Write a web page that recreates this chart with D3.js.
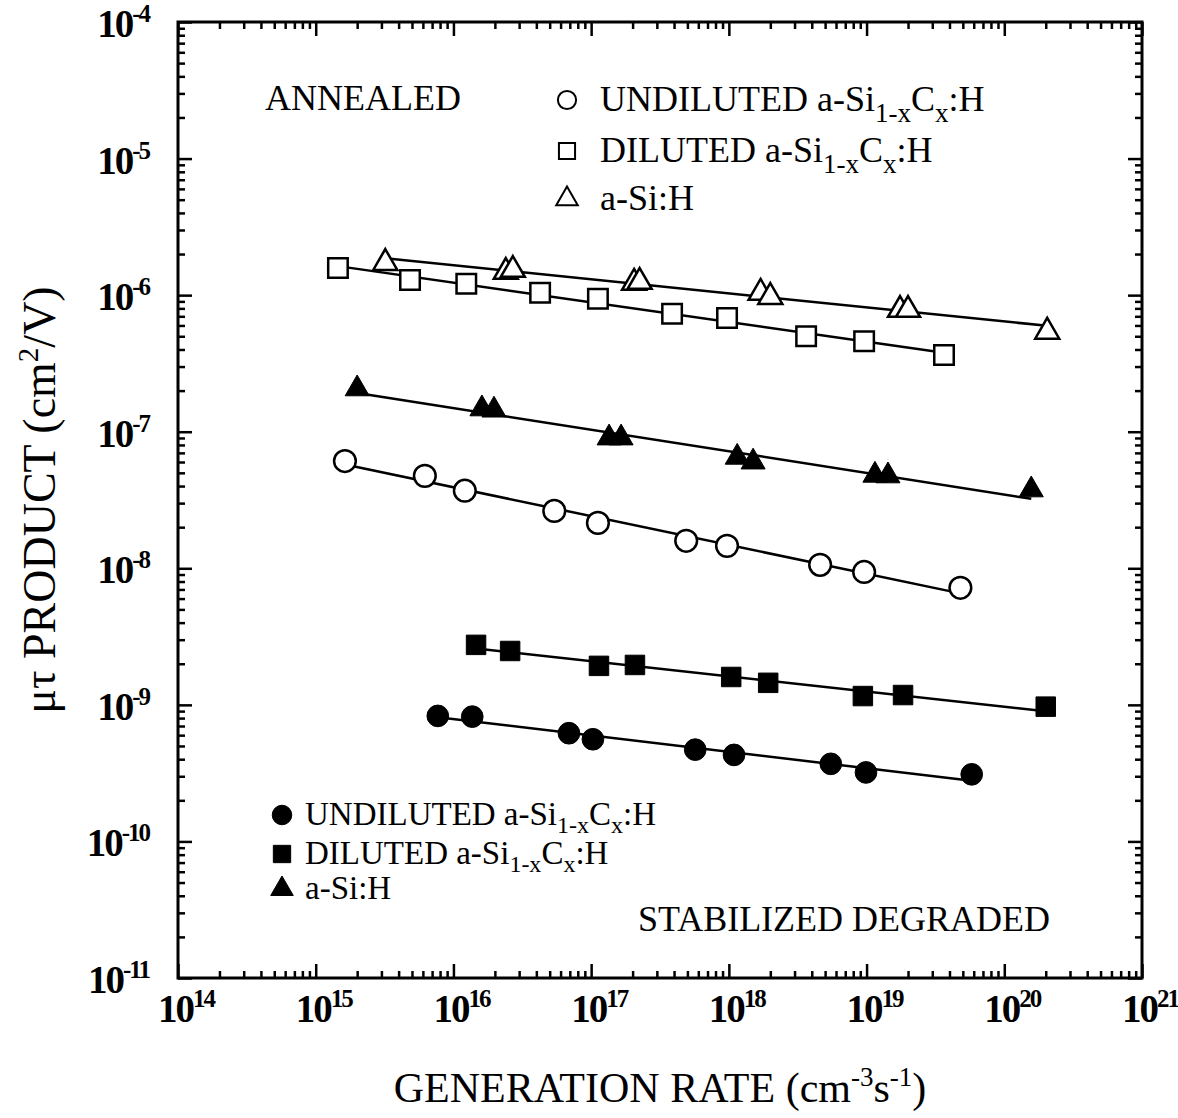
<!DOCTYPE html>
<html>
<head>
<meta charset="utf-8">
<script src="https://cdn.jsdelivr.net/npm/d3@7"></script>
<style>
body{margin:0;background:#fff}
text{font-family:"Liberation Serif","Times New Roman",serif;fill:#000}
</style>
</head>
<body>
<svg id="s"></svg>
<script>
// annealed
var annUndilX = [1.63e15, 6.2e15, 1.21e16, 5.4e16, 1.12e17, 4.9e17, 9.7e17, 4.6e18, 9.6e18, 4.8e19];
var annUndilY = [6.1e-8, 4.75e-8, 3.7e-8, 2.63e-8, 2.15e-8, 1.59e-8, 1.46e-8, 1.06e-8, 9.4e-9, 7.2e-9];
var annDilX = [1.45e15, 4.84e15, 1.24e16, 4.26e16, 1.12e17, 3.87e17, 9.7e17, 3.64e18, 9.6e18, 3.65e19];
var annDilY = [1.58e-6, 1.29e-6, 1.21e-6, 1.04e-6, 9.4e-7, 7.3e-7, 6.8e-7, 5.0e-7, 4.6e-7, 3.65e-7];
var annSiX = [3.2e15, 2.4e16, 2.7e16, 2.05e17, 2.25e17, 1.7e18, 2.0e18, 1.75e19, 2.0e19, 2.05e20];
var annSiY = [1.72e-6, 1.48e-6, 1.53e-6, 1.23e-6, 1.25e-6, 1.04e-6, 0.97e-6, 7.8e-7, 7.8e-7, 5.4e-7];
// stabilized degraded
var degUndilX = [7.7e15, 1.37e16, 6.9e16, 1.03e17, 5.7e17, 1.09e18, 5.5e18, 9.9e18, 5.8e19];
var degUndilY = [8.3e-10, 8.2e-10, 6.2e-10, 5.6e-10, 4.7e-10, 4.3e-10, 3.7e-10, 3.2e-10, 3.1e-10];
var degDilX = [1.46e16, 2.58e16, 1.14e17, 2.08e17, 1.04e18, 1.93e18, 9.4e18, 1.84e19, 2.0e20];
var degDilY = [2.75e-9, 2.48e-9, 1.93e-9, 1.96e-9, 1.6e-9, 1.45e-9, 1.16e-9, 1.18e-9, 9.7e-10];
var degSiX = [2.0e15, 1.61e16, 1.97e16, 1.35e17, 1.65e17, 1.15e18, 1.5e18, 1.15e19, 1.43e19, 1.57e20];
var degSiY = [2.06e-7, 1.47e-7, 1.44e-7, 9.0e-8, 9.0e-8, 6.5e-8, 6.0e-8, 4.8e-8, 4.75e-8, 3.75e-8];

var xExps = [14, 15, 16, 17, 18, 19, 20, 21];
var yExps = [-11, -10, -9, -8, -7, -6, -5, -4];

var W = 1178, H = 1118;
var L = 178, R = 1142, T = 22, B = 978;

var svg = d3.select('#s').attr('width', W).attr('height', H);

var x = d3.scaleLog().domain([1e14, 1e21]).range([L, R]);
var y = d3.scaleLog().domain([1e-11, 1e-4]).range([B, T]);

// tick values
var xMajor = xExps.map(function(e){return Math.pow(10, e);});
var yMajor = yExps.map(function(e){return Math.pow(10, e);});
var xMinor = [], yMinor = [];
xExps.slice(0, -1).forEach(function(e){
  for (var k = 2; k < 10; k++) xMinor.push(k * Math.pow(10, e));
});
yExps.slice(0, -1).forEach(function(e){
  for (var k = 2; k < 10; k++) yMinor.push(k * Math.pow(10, e));
});

function axisStyle(g){
  g.select('.domain').remove();
  g.selectAll('line').attr('stroke', '#000').attr('stroke-width', 2.5);
  g.selectAll('text').remove();
}

// bottom / top
svg.append('g').attr('transform', 'translate(0,' + B + ')')
  .call(d3.axisBottom(x).tickValues(xMajor).tickSize(-14).tickFormat('')).call(axisStyle);
svg.append('g').attr('transform', 'translate(0,' + B + ')')
  .call(d3.axisBottom(x).tickValues(xMinor).tickSize(-7).tickFormat('')).call(axisStyle);
svg.append('g').attr('transform', 'translate(0,' + T + ')')
  .call(d3.axisTop(x).tickValues(xMajor).tickSize(-14).tickFormat('')).call(axisStyle);
svg.append('g').attr('transform', 'translate(0,' + T + ')')
  .call(d3.axisTop(x).tickValues(xMinor).tickSize(-7).tickFormat('')).call(axisStyle);
// left / right
svg.append('g').attr('transform', 'translate(' + L + ',0)')
  .call(d3.axisLeft(y).tickValues(yMajor).tickSize(-14).tickFormat('')).call(axisStyle);
svg.append('g').attr('transform', 'translate(' + L + ',0)')
  .call(d3.axisLeft(y).tickValues(yMinor).tickSize(-7).tickFormat('')).call(axisStyle);
svg.append('g').attr('transform', 'translate(' + R + ',0)')
  .call(d3.axisRight(y).tickValues(yMajor).tickSize(-14).tickFormat('')).call(axisStyle);
svg.append('g').attr('transform', 'translate(' + R + ',0)')
  .call(d3.axisRight(y).tickValues(yMinor).tickSize(-7).tickFormat('')).call(axisStyle);

// frame
svg.append('rect').attr('x', L).attr('y', T).attr('width', R - L).attr('height', B - T)
  .attr('fill', 'none').attr('stroke', '#000').attr('stroke-width', 3);

// tick labels
var xl = svg.selectAll('.xl').data(xExps).enter().append('text')
  .attr('class', 'xl')
  .attr('x', function(d){return x(Math.pow(10, d)) + 8;})
  .attr('y', 1022)
  .attr('text-anchor', 'middle')
  .style('font-weight', 'bold').style('font-size', '39px').style('letter-spacing', '-2px');
xl.append('tspan').text('10');
xl.append('tspan').attr('dy', -15).style('font-size', '25px').text(function(d){return d;});

var yl = svg.selectAll('.yl').data(yExps).enter().append('text')
  .attr('class', 'yl')
  .attr('x', 149)
  .attr('y', function(d){return y(Math.pow(10, d)) + 15;})
  .attr('text-anchor', 'end')
  .style('font-weight', 'bold').style('font-size', '39px').style('letter-spacing', '-2px');
yl.append('tspan').text('10');
yl.append('tspan').attr('dy', -15).style('font-size', '25px').text(function(d){return d;});

// axis titles
var xt = svg.append('text').attr('x', 660).attr('y', 1102).attr('text-anchor', 'middle')
  .style('font-size', '42px');
xt.append('tspan').text('GENERATION RATE (cm');
xt.append('tspan').attr('dy', -16).style('font-size', '27px').text('-3');
xt.append('tspan').attr('dy', 16).text('s');
xt.append('tspan').attr('dy', -16).style('font-size', '27px').text('-1');
xt.append('tspan').attr('dy', 16).text(')');

var yt = svg.append('text').attr('transform', 'translate(55,500) rotate(-90)')
  .attr('text-anchor', 'middle').style('font-size', '46px');
yt.append('tspan').text('\u03bc\u03c4 PRODUCT (cm');
yt.append('tspan').attr('dy', -17).style('font-size', '29px').text('2');
yt.append('tspan').attr('dy', 17).text('/V)');

// series
var series = [
  {xs: annDilX, ys: annDilY, shape: 'square', filled: false},
  {xs: annSiX, ys: annSiY, shape: 'triangle', filled: false},
  {xs: degSiX, ys: degSiY, shape: 'triangle', filled: true},
  {xs: annUndilX, ys: annUndilY, shape: 'circle', filled: false},
  {xs: degDilX, ys: degDilY, shape: 'square', filled: true},
  {xs: degUndilX, ys: degUndilY, shape: 'circle', filled: true}
];

function fit(xs, ys){
  var lx = xs.map(Math.log10), ly = ys.map(Math.log10);
  var mx = d3.mean(lx), my = d3.mean(ly);
  var sxy = d3.sum(lx, function(v, i){return (v - mx) * (ly[i] - my);});
  var sxx = d3.sum(lx, function(v){return (v - mx) * (v - mx);});
  var b = sxy / sxx, a = my - b * mx;
  var x0 = d3.min(xs), x1 = d3.max(xs);
  return [[x0, Math.pow(10, a + b * Math.log10(x0))], [x1, Math.pow(10, a + b * Math.log10(x1))]];
}

var symbols = {
  circle: d3.symbol().type(d3.symbolCircle).size(370),
  square: d3.symbol().type(d3.symbolSquare).size(380),
  triangle: d3.symbol().type(d3.symbolTriangle).size(250)
};

var line = d3.line().x(function(d){return x(d[0]);}).y(function(d){return y(d[1]);});

series.forEach(function(s){
  svg.append('path').attr('d', line(fit(s.xs, s.ys)))
    .attr('fill', 'none').attr('stroke', '#000').attr('stroke-width', 2.5);
});

series.forEach(function(s){
  var pts = s.xs.map(function(v, i){return [v, s.ys[i]];});
  svg.append('g').selectAll('path').data(pts).enter().append('path')
    .attr('d', symbols[s.shape])
    .attr('transform', function(d){return 'translate(' + x(d[0]) + ',' + y(d[1]) + ')';})
    .attr('fill', s.filled ? '#000' : '#fff')
    .attr('stroke', '#000').attr('stroke-width', s.filled ? 1 : 2.5);
});

// legends
function legendText(g, xPos, yPos, size, parts){
  var t = g.append('text').attr('x', xPos).attr('y', yPos).style('font-size', size);
  parts.forEach(function(p){
    var ts = t.append('tspan').text(p[0]);
    if (p[1]) ts.attr('dy', p[1]);
    if (p[2]) ts.style('font-size', p[2]);
  });
}
var formula = function(name, drop, sub){
  return [[name + ' a-Si'], ['1-x', drop, sub], ['C', -drop], ['x', drop, sub], [':H', -drop]];
};

var leg = svg.append('g');
leg.append('text').attr('x', 265).attr('y', 110).style('font-size', '36px').text('ANNEALED');

var topLeg = [
  {shape: 'circle', yPos: 100, parts: formula('UNDILUTED', 11, '27px')},
  {shape: 'square', yPos: 151, parts: formula('DILUTED', 11, '27px')},
  {shape: 'triangle', yPos: 199, parts: [['a-Si:H']]}
];
var botLeg = [
  {shape: 'circle', yPos: 815, parts: formula('UNDILUTED', 8, '24px')},
  {shape: 'square', yPos: 854, parts: formula('DILUTED', 8, '24px')},
  {shape: 'triangle', yPos: 889, parts: [['a-Si:H']]}
];

function symType(s){
  return s === 'circle' ? d3.symbolCircle : s === 'square' ? d3.symbolSquare : d3.symbolTriangle;
}

topLeg.forEach(function(d){
  leg.append('path').attr('d', d3.symbol().type(symType(d.shape))
      .size(d.shape === 'triangle' ? 200 : 260))
    .attr('transform', 'translate(567,' + d.yPos + ')')
    .attr('fill', '#fff').attr('stroke', '#000').attr('stroke-width', 2);
  legendText(leg, 600, d.yPos + 11, '36px', d.parts);
});
botLeg.forEach(function(d){
  leg.append('path').attr('d', d3.symbol().type(symType(d.shape))
      .size(d.shape === 'triangle' ? 220 : 300))
    .attr('transform', 'translate(282,' + d.yPos + ')')
    .attr('fill', '#000').attr('stroke', '#000').attr('stroke-width', 1);
  legendText(leg, 305, d.yPos + 10, '33px', d.parts);
});

leg.append('text').attr('x', 638).attr('y', 931).style('font-size', '36px').text('STABILIZED DEGRADED');
</script>
</body>
</html>
